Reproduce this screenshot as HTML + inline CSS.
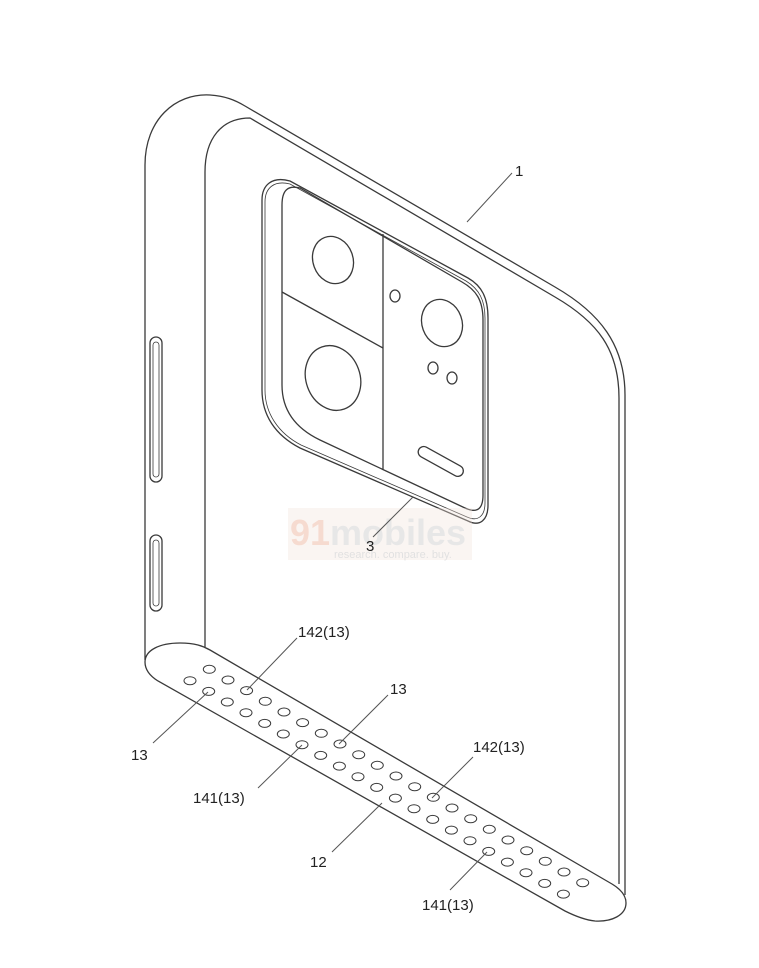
<!DOCTYPE html>
<html><head><meta charset="utf-8"><style>
html,body{margin:0;padding:0;background:#fff;}
svg{display:block;}
text{font-family:"Liberation Sans",sans-serif;fill:#222;}
</style></head><body>
<svg width="759" height="968" viewBox="0 0 759 968" xmlns="http://www.w3.org/2000/svg">
<g fill="none" stroke="#3a3a3a" stroke-width="1.3">
<!-- body outer -->
<path d="M145,660 V165 C145,120 175,93 210,95 C225,96 235,100 245,106 L555,287 C600,313 625,345 625,395 V895"/>
<!-- body inner -->
<path d="M205,647 V172 C205,138 222,118 250,118 L555,297 C598,322 619,350 619,398 V884"/>
<!-- grille -->
<path d="M180,643 C195,643 203,646 210,650 L612,884 C622,890 626,897 626,903 C626,915 612,922 595,921 C585,920 575,916 565,911 L158,681 C150,676 145,670 145,662 C145,650 160,643 180,643 Z"/>
<!-- buttons -->
<rect x="150" y="337" width="12" height="145" rx="6"/>
<rect x="153" y="342" width="6" height="135" rx="3" stroke-width="0.8"/>
<rect x="150" y="535" width="12" height="76" rx="6"/>
<rect x="153" y="540" width="6" height="66" rx="3" stroke-width="0.8"/>
<!-- camera module -->
<path d="M262,200 C262,185 272,176 290,181 L468,278 C482,286 488,298 488,318 V505 C488,520 480,527 468,521 L300,448 C275,435 262,415 262,390 Z"/>
<path d="M265,202 C265,188 274,180 290,184 L466,281 C479,289 485,300 485,318 V503 C485,516 478,522 467,517 L301,445 C278,433 265,413 265,390 Z" stroke-width="0.8"/>
<path d="M282,205 C282,190 288,185 300,188 L462,282 C476,290 483,300 483,320 V495 C483,508 478,514 465,508 L320,440 C295,428 282,410 282,385 Z"/>
<line x1="383" y1="234" x2="383" y2="470"/>
<line x1="282" y1="292" x2="383" y2="348"/>
<ellipse cx="333" cy="260" rx="20" ry="24" transform="rotate(-20 333 260)"/>
<ellipse cx="333" cy="378" rx="27" ry="33" transform="rotate(-20 333 378)"/>
<ellipse cx="442" cy="323" rx="20" ry="24" transform="rotate(-20 442 323)"/>
<ellipse cx="395" cy="296" rx="5" ry="6"/>
<ellipse cx="433" cy="368" rx="5" ry="6"/>
<ellipse cx="452" cy="378" rx="5" ry="6"/>
<rect x="416" y="456" width="50" height="11" rx="5.5" transform="rotate(29 441 461)"/>
</g>
<!-- holes -->
<g fill="none" stroke="#3a3a3a" stroke-width="1">
<script>/*placeholder*/</script>
</g>
<g id="holes" fill="none" stroke="#3a3a3a" stroke-width="1">
<ellipse cx="209.3" cy="669.3" rx="6" ry="4"/><ellipse cx="228.0" cy="680.0" rx="6" ry="4"/><ellipse cx="246.6" cy="690.6" rx="6" ry="4"/><ellipse cx="265.3" cy="701.3" rx="6" ry="4"/><ellipse cx="284.0" cy="712.0" rx="6" ry="4"/><ellipse cx="302.6" cy="722.6" rx="6" ry="4"/><ellipse cx="321.3" cy="733.3" rx="6" ry="4"/><ellipse cx="340.0" cy="744.0" rx="6" ry="4"/><ellipse cx="358.7" cy="754.7" rx="6" ry="4"/><ellipse cx="377.3" cy="765.3" rx="6" ry="4"/><ellipse cx="396.0" cy="776.0" rx="6" ry="4"/><ellipse cx="414.7" cy="786.7" rx="6" ry="4"/><ellipse cx="433.3" cy="797.3" rx="6" ry="4"/><ellipse cx="452.0" cy="808.0" rx="6" ry="4"/><ellipse cx="470.7" cy="818.7" rx="6" ry="4"/><ellipse cx="489.3" cy="829.3" rx="6" ry="4"/><ellipse cx="508.0" cy="840.0" rx="6" ry="4"/><ellipse cx="526.7" cy="850.7" rx="6" ry="4"/><ellipse cx="545.3" cy="861.3" rx="6" ry="4"/><ellipse cx="564.0" cy="872.0" rx="6" ry="4"/><ellipse cx="582.7" cy="882.7" rx="6" ry="4"/>
<ellipse cx="190.0" cy="680.7" rx="6" ry="4"/><ellipse cx="208.7" cy="691.4" rx="6" ry="4"/><ellipse cx="227.3" cy="702.0" rx="6" ry="4"/><ellipse cx="246.0" cy="712.7" rx="6" ry="4"/><ellipse cx="264.7" cy="723.4" rx="6" ry="4"/><ellipse cx="283.3" cy="734.0" rx="6" ry="4"/><ellipse cx="302.0" cy="744.7" rx="6" ry="4"/><ellipse cx="320.7" cy="755.4" rx="6" ry="4"/><ellipse cx="339.4" cy="766.1" rx="6" ry="4"/><ellipse cx="358.0" cy="776.7" rx="6" ry="4"/><ellipse cx="376.7" cy="787.4" rx="6" ry="4"/><ellipse cx="395.4" cy="798.1" rx="6" ry="4"/><ellipse cx="414.0" cy="808.7" rx="6" ry="4"/><ellipse cx="432.7" cy="819.4" rx="6" ry="4"/><ellipse cx="451.4" cy="830.1" rx="6" ry="4"/><ellipse cx="470.0" cy="840.7" rx="6" ry="4"/><ellipse cx="488.7" cy="851.4" rx="6" ry="4"/><ellipse cx="507.4" cy="862.1" rx="6" ry="4"/><ellipse cx="526.0" cy="872.7" rx="6" ry="4"/><ellipse cx="544.7" cy="883.4" rx="6" ry="4"/><ellipse cx="563.4" cy="894.1" rx="6" ry="4"/>
</g>
<!-- watermark -->
<g opacity="0.35">
<rect x="288" y="508" width="184" height="52" fill="#f3e3dc"/>
<text x="290" y="545" font-size="36" font-weight="bold" style="fill:#e79a7a">91</text>
<text x="330" y="545" font-size="36" font-weight="bold" style="fill:#bbb">mobiles</text>
<text x="334" y="558" font-size="11" style="fill:#aaa">research. compare. buy.</text>
</g>
<!-- leaders -->
<g stroke="#555" stroke-width="1" fill="none">
<line x1="512" y1="173" x2="467" y2="222"/>
<line x1="413" y1="497" x2="373" y2="537"/>
<line x1="297" y1="638" x2="247" y2="690"/>
<line x1="388" y1="695" x2="339" y2="744"/>
<line x1="153" y1="743" x2="208" y2="692"/>
<line x1="258" y1="788" x2="302" y2="745"/>
<line x1="473" y1="757" x2="432" y2="798"/>
<line x1="332" y1="852" x2="382" y2="803"/>
<line x1="450" y1="890" x2="487" y2="852"/>
</g>
<g font-size="15">
<text x="515" y="176">1</text>
<text x="366" y="551">3</text>
<text x="298" y="637">142(13)</text>
<text x="390" y="694">13</text>
<text x="131" y="760">13</text>
<text x="193" y="803">141(13)</text>
<text x="473" y="752">142(13)</text>
<text x="310" y="867">12</text>
<text x="422" y="910">141(13)</text>
</g>
</svg>
</body></html>
